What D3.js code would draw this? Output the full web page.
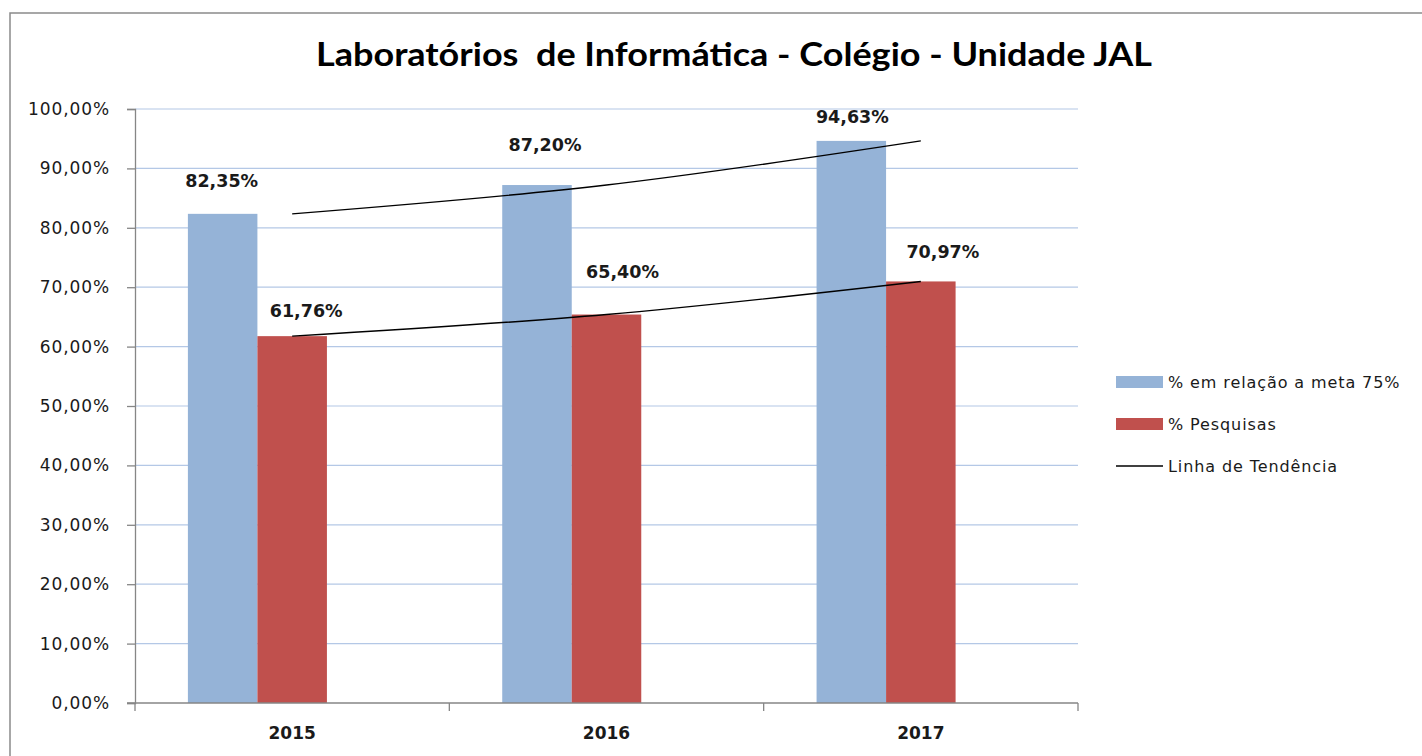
<!DOCTYPE html>
<html><head><meta charset="utf-8">
<script src="https://cdn.jsdelivr.net/npm/d3@7"></script>
<style>html,body{margin:0;padding:0;background:#fff;overflow:hidden}</style>
</head><body>
<svg id="c" width="1422" height="756"></svg>
<script>
const title = "Laboratórios  de Informática - Colégio - Unidade JAL";
const years = ["2015", "2016", "2017"];
const metaValues = [0.8235, 0.8720, 0.9463];
const pesquisaValues = [0.6176, 0.6540, 0.7097];
const yTicks = [0, 0.1, 0.2, 0.3, 0.4, 0.5, 0.6, 0.7, 0.8, 0.9, 1.0];
const seriesNames = ["% em relação a meta 75%", "% Pesquisas", "Linha de Tendência"];
const colors = ["#95b3d7", "#c0504d", "#000"];
// manual label nudges (layout only)
const labelNudge = {
  meta: [[-1, -33], [8, -40], [1, -24]],
  pesq: [[14, -25], [16, -43], [22, -29]]
};

const svg = d3.select("#c");
const fmt = v => (v * 100).toFixed(2).replace(".", ",") + "%";

// outer frame
svg.append("rect").attr("x", 10).attr("y", 13).attr("width", 1440).attr("height", 780)
  .attr("fill", "#fff").attr("stroke", "#8a8a8a").attr("stroke-width", 1.5);

const L = 135, R = 1078, T = 109, B = 703;
const x0 = d3.scaleBand().domain(years).range([L, R]).padding(0);
const x1 = d3.scaleBand().domain(["meta", "pesq", "trend"]).range([0, x0.bandwidth()])
  .paddingInner(0).paddingOuter(0.761);
const y = d3.scaleLinear().domain([0, 1]).range([B, T]);

// gridlines
svg.append("g").selectAll("line").data(yTicks.filter(t => t > 0)).join("line")
  .attr("x1", L).attr("x2", R).attr("y1", d => y(d)).attr("y2", d => y(d))
  .attr("stroke", "#b4c8e6").attr("stroke-width", 1.2);

// bars
const series = [
  { key: "meta", values: metaValues, color: colors[0] },
  { key: "pesq", values: pesquisaValues, color: colors[1] }
];
series.forEach(s => {
  svg.append("g").selectAll("rect").data(s.values).join("rect")
    .attr("x", (d, i) => x0(years[i]) + x1(s.key))
    .attr("width", x1.bandwidth())
    .attr("y", d => y(d))
    .attr("height", d => B - y(d))
    .attr("fill", s.color);
});

// y axis
const yAxis = d3.axisLeft(y).tickValues(yTicks).tickFormat(fmt).tickSize(8).tickPadding(17);
const ya = svg.append("g").attr("transform", `translate(${L},0)`).call(yAxis);
ya.select(".domain").attr("stroke", "#868686").attr("stroke-width", 1.3);
ya.selectAll(".tick line").attr("stroke", "#868686").attr("stroke-width", 1.3);
ya.selectAll("text").attr("font-family", "DejaVu Sans").attr("font-size", 17)
  .attr("letter-spacing", 0.9).attr("fill", "#1a1a1a");

// x axis
const xa = svg.append("g").attr("transform", `translate(0,${B})`)
  .call(d3.axisBottom(x0).tickSize(0).tickPadding(24));
xa.select(".domain").remove();
xa.append("line").attr("x1", L - 8).attr("x2", R).attr("stroke", "#868686").attr("stroke-width", 1.3);
xa.selectAll(".bnd").data([...years.map(d => x0(d)), R]).join("line").attr("class", "bnd")
  .attr("x1", d => d).attr("x2", d => d).attr("y1", 0).attr("y2", 8)
  .attr("stroke", "#868686").attr("stroke-width", 1.3);
xa.selectAll(".tick text").attr("font-family", "DejaVu Sans").attr("font-weight", "bold")
  .attr("font-size", 17).attr("fill", "#1a1a1a");

// trend lines through category centers
const cx = i => x0(years[i]) + x0.bandwidth() / 2;
const trend = d3.line().x((d, i) => cx(i)).y(d => y(d)).curve(d3.curveNatural);
[metaValues, pesquisaValues].forEach(vals => {
  svg.append("path").attr("d", trend(vals)).attr("fill", "none")
    .attr("stroke", "#000").attr("stroke-width", 1.4);
});

// data labels
series.forEach(s => {
  svg.append("g").selectAll("text").data(s.values).join("text")
    .attr("x", (d, i) => x0(years[i]) + x1(s.key) + x1.bandwidth() / 2 + labelNudge[s.key][i][0])
    .attr("y", (d, i) => y(d) + labelNudge[s.key][i][1] + 6)
    .attr("text-anchor", "middle")
    .attr("font-family", "DejaVu Sans").attr("font-weight", "bold").attr("font-size", 17.5)
    .attr("fill", "#1a1a1a")
    .text(d => fmt(d));
});

// title
svg.append("text").attr("x", 734).attr("y", 66).attr("text-anchor", "middle")
  .style("white-space", "pre")
  .attr("font-family", "Lato").attr("font-weight", "bold").attr("font-size", 32)
  .attr("textLength", 836).attr("lengthAdjust", "spacingAndGlyphs")
  .attr("fill", "#000").text(title);

// legend
const lg = svg.append("g").attr("transform", "translate(1116,382)");
seriesNames.forEach((name, i) => {
  const g = lg.append("g").attr("transform", `translate(0,${i * 42})`);
  if (i < 2) {
    g.append("rect").attr("x", 0).attr("y", -6).attr("width", 47).attr("height", 12).attr("fill", colors[i]);
  } else {
    g.append("line").attr("x1", 0).attr("x2", 47).attr("y1", 0).attr("y2", 0)
      .attr("stroke", "#000").attr("stroke-width", 1.4);
  }
  g.append("text").attr("x", 52).attr("y", 6)
    .attr("font-family", "DejaVu Sans").attr("font-size", 16).attr("letter-spacing", 0.9)
    .attr("fill", "#1a1a1a")
    .text(name);
});
</script>
</body></html>
